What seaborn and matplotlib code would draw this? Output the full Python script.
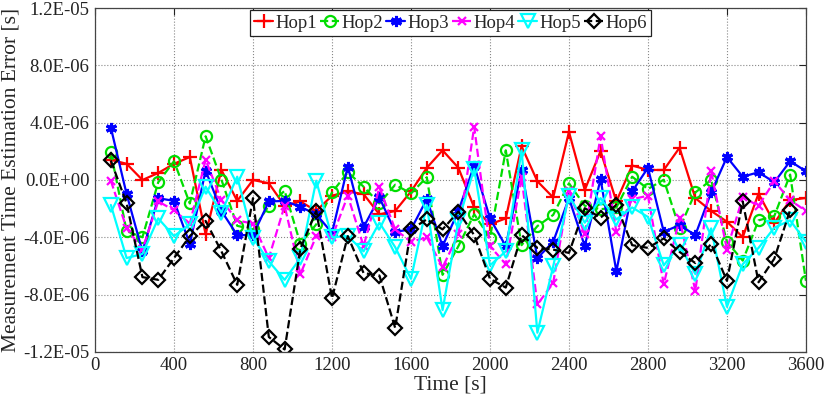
import numpy as np
import pandas as pd
import matplotlib
matplotlib.use('Agg')
import matplotlib.pyplot as plt
import seaborn as sns
from matplotlib.ticker import FuncFormatter, MultipleLocator

# time stamps (s), one sample every 80 s
time_s = list(range(80, 3601, 80))

# errors in units of 1E-06 s
hop1 = [1.41, 1.13, 0.0, 0.49, 1.13, 1.6, -3.8, 0.7, -1.46, 0.0,
        -0.23, -1.8, -1.5, -2.16, -1.1, -0.8, -0.99, -2.4, -2.16, -0.8,
        0.85, 2.07, 0.85, -1.92, -3.1, -2.68, 2.35, -0.09, -1.22, 3.36,
        -0.7, 2.02, -1.5, 1.01, 0.7, 0.7, 2.25, -1.27, -2.16, -2.91,
        -3.99, -0.95, -3.0, -1.41, -1.25]
hop2 = [1.95, -3.57, -4.0, -0.16, 1.31, -1.64, 3.05, 0.02, -3.2, -3.45,
        -1.8, -0.75, -4.46, -3.1, -0.87, 0.54, -0.47, -1.64, -0.33, -0.94,
        0.19, -6.62, -4.62, -2.39, -4.04, 2.07, -4.55, -3.22, -2.44, -0.23,
        -1.8, -2.04, -1.92, 0.23, -0.63, 0.02, -3.38, -0.87, 0.0, -4.32,
        -5.63, -2.82, -2.51, 0.38, -7.04]
hop3 = [3.66, -0.99, -4.98, -1.27, -1.46, -4.46, 0.66, -2.16, -3.85, -3.85,
        -1.5, -1.46, -1.88, -2.39, -3.69, 0.94, -3.29, -1.22, -3.62, -3.45,
        -1.34, -4.62, -2.16, 1.01, -2.68, -4.62, 0.7, -5.45, -4.32, -1.27,
        -4.62, 0.07, -6.38, -0.8, 0.85, -3.62, -3.15, -3.85, -0.87, 1.6,
        0.23, 0.54, -0.16, 1.31, 0.61]
hop4 = [-0.05, -3.38, -4.86, -1.5, -2.11, -3.05, 1.41, -1.41, -2.82, -3.05,
        -5.45, -1.8, -6.57, -3.92, -4.0, -1.1, -4.62, -0.52, -3.45, -4.32,
        -4.0, -6.1, -3.8, 3.71, -4.62, -5.87, 0.19, -8.69, -7.2, -0.75,
        -3.8, 3.05, -3.62, -1.34, -1.1, -7.28, -2.68, -7.75, 0.61, -4.86,
        -1.22, -1.8, -0.09, -1.41, -2.16]
hop5 = [-1.74, -5.45, -5.16, -2.68, -3.92, -3.1, -0.47, -2.28, 0.23, -4.04,
        -5.68, -6.97, -5.45, -0.05, -4.0, -3.92, -4.98, -2.98, -4.69, -6.9,
        -1.76, -9.08, -2.86, 0.77, -5.96, -4.98, 2.07, -10.66, -6.03, -1.1,
        -2.98, -1.27, -2.75, -1.92, -2.58, -5.96, -4.55, -6.57, -3.38, -8.85,
        -5.87, -4.74, -3.33, -2.82, -4.3]
hop6 = [1.36, -1.64, -6.78, -6.97, -5.45, -3.92, -2.86, -4.98, -7.32, -1.27,
        -10.96, -11.83, -4.79, -2.16, -8.26, -3.92, -6.5, -6.67, -10.33, -3.45,
        -2.75, -3.45, -2.21, -3.85, -6.9, -7.51, -3.85, -4.74, -4.86, -5.09,
        -1.97, -2.63, -1.74, -4.55, -4.74, -4.08, -5.02, -5.8, -4.46, -7.04,
        -1.5, -7.14, -5.49, -2.1]

series = {'Hop1': hop1, 'Hop2': hop2, 'Hop3': hop3,
          'Hop4': hop4, 'Hop5': hop5, 'Hop6': hop6}

# asterisk-like marker for Hop3, as in the original
asterisk = (6, 2, 0)

styles = {
    'Hop1': dict(color='#ff0000', marker='+', linestyle='-', ms=10, mew=1.6, mfc='none'),
    'Hop2': dict(color='#00dd00', marker='o', linestyle='--', ms=8, mew=1.6, mfc='none'),
    'Hop3': dict(color='#0000ff', marker=asterisk, linestyle='-', ms=8, mew=2.2, mfc='#0000ff'),
    'Hop4': dict(color='#ff00ff', marker='x', linestyle='--', ms=6, mew=1.6, mfc='none'),
    'Hop5': dict(color='#00ffff', marker='v', linestyle='-', ms=10, mew=1.6, mfc='none'),
    'Hop6': dict(color='#000000', marker='D', linestyle='--', ms=7, mew=1.6, mfc='none'),
}

sns.set_style('white')
plt.rcParams['font.family'] = ['Liberation Serif', 'DejaVu Serif']

fig = plt.figure(figsize=(8.3, 4.04), dpi=100)
ax = fig.add_axes([0.1145, 0.129, 0.8565, 0.851])

for name, vals in series.items():
    df = pd.DataFrame({'time': time_s[:len(vals)], 'err': np.array(vals) * 1e-6})
    st = styles[name]
    sns.lineplot(data=df, x='time', y='err', ax=ax, label=name,
                 color=st['color'], marker=st['marker'], linestyle=st['linestyle'],
                 markersize=st['ms'], markeredgewidth=st['mew'],
                 markerfacecolor=st['mfc'], markeredgecolor=st['color'],
                 linewidth=1.6, dashes=False if st['linestyle'] == '-' else (4, 2.5),
                 estimator=None, sort=False)

ax.set_xlim(0, 3600)
ax.set_ylim(-1.2e-5, 1.2e-5)
ax.xaxis.set_major_locator(MultipleLocator(400))
ax.set_yticks(np.arange(-12, 12.1, 4) * 1e-6)
ax.yaxis.set_major_formatter(FuncFormatter(lambda v, p: '%.1E' % (round(v * 1e7) / 1e7)))

ax.grid(True, linestyle=':', color='#888888', linewidth=0.8)
ax.tick_params(direction='in', top=True, right=True, length=5, width=0.8,
               labelsize=13.5, colors='#222222', pad=4)
for sp in ax.spines.values():
    sp.set_color('#444444')
    sp.set_linewidth(0.9)

ax.set_xlabel('Time [s]', fontsize=15.5, labelpad=1)
ax.set_ylabel('Measurement Time Estimation Error [s]', fontsize=15.5, labelpad=2)

leg = ax.legend(loc='upper center', ncol=6, fontsize=13.5, frameon=True,
                fancybox=False, edgecolor='#222222', framealpha=1,
                handlelength=1.0, handletextpad=0.1, columnspacing=0.2,
                borderpad=0.25, borderaxespad=0.1)
leg.get_frame().set_linewidth(0.9)

fig.savefig('out.png', dpi=100)
